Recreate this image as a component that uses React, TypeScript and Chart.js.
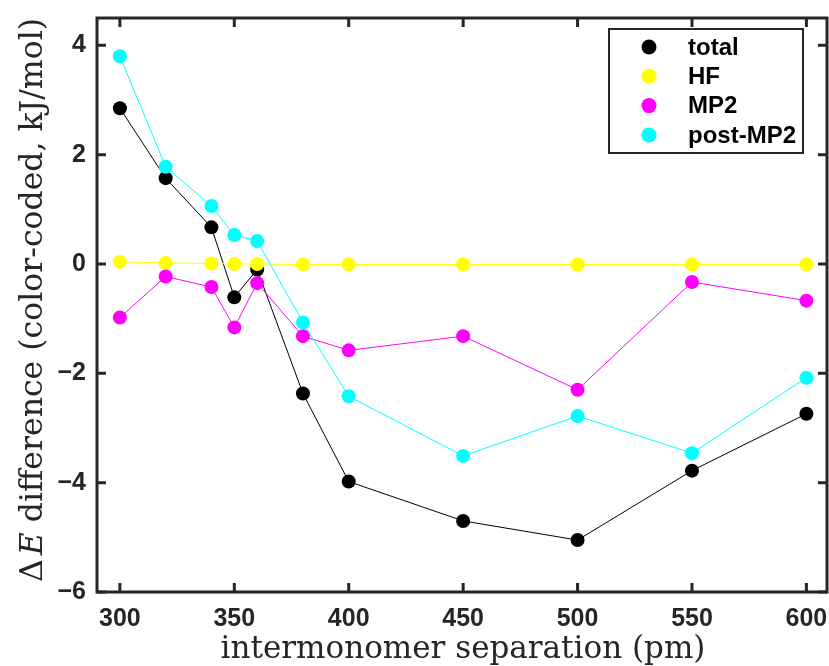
import React, { useEffect, useRef } from "react";
import { Chart, registerables } from "chart.js";

Chart.register(...registerables);

const xValues = [300, 320, 340, 350, 360, 380, 400, 450, 500, 550, 600];
const totalValues = [2.85, 1.57, 0.67, -0.61, -0.1, -2.37, -3.98, -4.7, -5.05, -3.78, -2.74];
const hfValues = [0.04, 0.02, 0.01, 0.0, 0.0, -0.01, -0.01, -0.01, -0.01, -0.01, -0.01];
const mp2Values = [-0.98, -0.23, -0.42, -1.16, -0.35, -1.32, -1.58, -1.32, -2.3, -0.33, -0.67];
const postMp2Values = [3.8, 1.78, 1.06, 0.53, 0.42, -1.07, -2.42, -3.51, -2.78, -3.46, -2.08];
const seriesLabels = ["total", "HF", "MP2", "post-MP2"];
const seriesColors = ["#000000", "#ffff00", "#ff00ff", "#00ffff"];
const xTicks = [300, 350, 400, 450, 500, 550, 600];
const yTicks = [-6, -4, -2, 0, 2, 4];
const xTitle = "intermonomer separation (pm)";
const yTitleParts = ["\u0394", "E", " difference (color-coded, kJ/mol)"];

const AXIS = "#262626";
const SERIF = "'DejaVu Serif', 'Liberation Serif', serif";
const SANS = "'Liberation Sans', Arial, sans-serif";

const framePlugin = {
  id: "frame",
  afterDraw(chart: any) {
    const { ctx, chartArea, scales } = chart;
    const { left, right, top, bottom } = chartArea;
    const xs = scales.x;
    const ys = scales.y;
    ctx.save();
    ctx.strokeStyle = AXIS;
    ctx.lineWidth = 3;
    ctx.lineCap = "butt";
    ctx.strokeRect(left, top, right - left, bottom - top);
    const tl = 9;
    ctx.beginPath();
    xTicks.forEach((v) => {
      const px = xs.getPixelForValue(v);
      ctx.moveTo(px, bottom);
      ctx.lineTo(px, bottom - tl);
      ctx.moveTo(px, top);
      ctx.lineTo(px, top + tl);
    });
    yTicks.forEach((v) => {
      const py = ys.getPixelForValue(v);
      ctx.moveTo(left, py);
      ctx.lineTo(left + tl, py);
      ctx.moveTo(right, py);
      ctx.lineTo(right - tl, py);
    });
    ctx.stroke();

    // x title
    ctx.fillStyle = AXIS;
    ctx.font = `31px ${SERIF}`;
    ctx.textAlign = "center";
    ctx.textBaseline = "alphabetic";
    ctx.fillText(xTitle, 463, 658);

    // y title (rotated, with italic E)
    const fontReg = `31.5px ${SERIF}`;
    const fontIt = `italic 31.5px ${SERIF}`;
    ctx.font = fontReg;
    const w0 = ctx.measureText(yTitleParts[0]).width;
    const gap = 4;
    ctx.font = fontIt;
    const w1 = ctx.measureText(yTitleParts[1]).width;
    ctx.font = fontReg;
    const w2 = ctx.measureText(yTitleParts[2]).width;
    const total = w0 + gap + w1 + w2;
    ctx.save();
    ctx.translate(42, 300);
    ctx.rotate(-Math.PI / 2);
    ctx.textAlign = "left";
    let cx = -total / 2;
    ctx.font = fontReg;
    ctx.fillText(yTitleParts[0], cx, 0);
    cx += w0 + gap;
    ctx.font = fontIt;
    ctx.fillText(yTitleParts[1], cx, 0);
    cx += w1;
    ctx.font = fontReg;
    ctx.fillText(yTitleParts[2], cx, 0);
    ctx.restore();

    // legend
    const lx = 609;
    const ly = 29;
    const lw = 194;
    const lh = 124;
    ctx.fillStyle = "#ffffff";
    ctx.fillRect(lx, ly, lw, lh);
    ctx.strokeStyle = AXIS;
    ctx.lineWidth = 2;
    ctx.strokeRect(lx, ly, lw, lh);
    ctx.font = `bold 24px ${SANS}`;
    ctx.textAlign = "left";
    ctx.textBaseline = "middle";
    chart.data.datasets.forEach((ds: any, i: number) => {
      const ry = 47 + i * 29.3;
      ctx.fillStyle = ds.pointBackgroundColor;
      ctx.beginPath();
      ctx.arc(649, ry, 7.5, 0, Math.PI * 2);
      ctx.fill();
      ctx.fillStyle = "#000000";
      ctx.fillText(ds.label, 688, ry + 1);
    });
    ctx.restore();
  },
};

function makeData(values: number[]) {
  return xValues.map((x, i) => ({ x, y: values[i] }));
}

export default function App() {
  const ref = useRef<HTMLCanvasElement | null>(null);
  useEffect(() => {
    if (!ref.current) return;
    const all = [totalValues, hfValues, mp2Values, postMp2Values];
    const chart = new Chart(ref.current, {
      type: "line",
      data: {
        datasets: all.map((vals, i) => ({
          label: seriesLabels[i],
          data: makeData(vals),
          borderColor: seriesColors[i],
          backgroundColor: seriesColors[i],
          pointBackgroundColor: seriesColors[i],
          pointBorderColor: seriesColors[i],
          pointBorderWidth: 0,
          pointRadius: 7,
          pointHoverRadius: 7,
          borderWidth: 1,
          tension: 0,
          fill: false,
          order: 3 - i,
        })),
      },
      options: {
        animation: false,
        responsive: false,
        maintainAspectRatio: false,
        events: [],
        layout: { autoPadding: false, padding: { left: 0, right: 2, top: 18, bottom: 0 } },
        plugins: {
          legend: { display: false },
          tooltip: { enabled: false },
        },
        scales: {
          x: {
            type: "linear",
            min: 290,
            max: 609,
            grid: { display: false, drawTicks: false },
            border: { display: false },
            afterBuildTicks: (s: any) => {
              s.ticks = xTicks.map((v) => ({ value: v }));
            },
            afterFit: (s: any) => {
              s.height = 74;
              s.paddingLeft = 0;
              s.paddingRight = 0;
            },
            ticks: {
              padding: 12,
              color: AXIS,
              font: { family: SANS, size: 25, weight: "bold" },
              maxRotation: 0,
              autoSkip: false,
              callback: (v: any) => String(v),
            },
          },
          y: {
            type: "linear",
            min: -6,
            max: 4.5,
            grid: { display: false, drawTicks: false },
            border: { display: false },
            afterBuildTicks: (s: any) => {
              s.ticks = yTicks.map((v) => ({ value: v }));
            },
            afterFit: (s: any) => {
              s.width = 97;
              s.paddingTop = 0;
              s.paddingBottom = 0;
            },
            ticks: {
              padding: 11,
              color: AXIS,
              font: { family: SANS, size: 25, weight: "bold" },
              autoSkip: false,
              callback: (v: any) => (v < 0 ? "\u2212" + Math.abs(v) : String(v)),
            },
          },
        },
      },
      plugins: [framePlugin],
    });
    return () => chart.destroy();
  }, []);
  return (
    <div style={{ position: "fixed", left: 0, top: 0, width: 829, height: 666, background: "#fff" }}>
      <canvas ref={ref} width={829} height={666} style={{ width: 829, height: 666 }} />
    </div>
  );
}
